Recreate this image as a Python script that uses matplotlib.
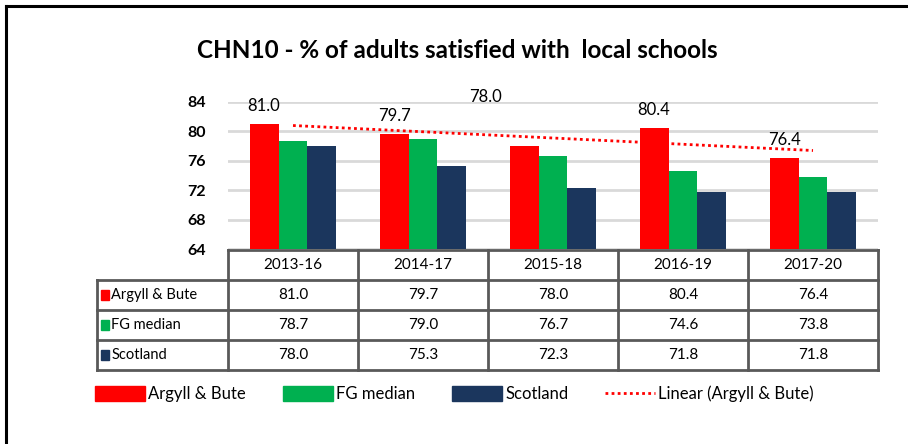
import numpy as np
import matplotlib
matplotlib.use('Agg')
import matplotlib.pyplot as plt
from matplotlib.patches import Patch, Rectangle
from matplotlib.lines import Line2D

plt.rcParams['font.family'] = ['Lato', 'DejaVu Sans']

# data
periods = ['2013-16', '2014-17', '2015-18', '2016-19', '2017-20']
argyll = [81.0, 79.7, 78.0, 80.4, 76.4]
fg_median = [78.7, 79.0, 76.7, 74.6, 73.8]
scotland = [78.0, 75.3, 72.3, 71.8, 71.8]
series_names = ['Argyll & Bute', 'FG median', 'Scotland']
colors = ['#FF0000', '#00B050', '#1B365D']

W, H = 908, 444
fig = plt.figure(figsize=(W / 100, H / 100), dpi=100)

def fx(px):
    return px / W

def fy(py):
    return 1 - py / H

# main bar axes
ax = fig.add_axes([fx(228), fy(249), fx(878) - fx(228), fy(102) - fy(249)])
x = np.arange(len(periods))
bw = 0.223
for i, (vals, col) in enumerate(zip([argyll, fg_median, scotland], colors)):
    ax.bar(x + (i - 1) * bw, vals, width=bw, color=col, zorder=3)

# linear trend for Argyll & Bute
coef = np.polyfit(x, argyll, 1)
ax.plot(x, np.polyval(coef, x), color='#FF0000', linestyle=(0, (1, 1.2)), lw=2, zorder=4)

# data labels above the red bars (one was moved by hand in the original)
nudge = {2: (-28, 35)}
for i, v in enumerate(argyll):
    dx, dy = nudge.get(i, (0, 13))
    ax.annotate(f'{v:.1f}', (x[i] - bw, v), xytext=(dx, dy), textcoords='offset points',
                ha='center', va='center', fontsize=12, annotation_clip=False, zorder=5)

ax.set_xlim(-0.5, 4.5)
ax.set_ylim(64, 84)
yt = np.arange(64, 85, 4)
ax.set_yticks(yt)
ax.set_yticklabels([str(v) for v in yt], fontweight='bold', fontsize=11.5)
ax.tick_params(axis='y', length=0, pad=16)
ax.set_xticks([])
ax.grid(axis='y', color='#D9D9D9', lw=2, zorder=0)
for s in ['top', 'right', 'left', 'bottom']:
    ax.spines[s].set_visible(False)

# data table underneath
tab = fig.add_axes([fx(97), fy(370), fx(878) - fx(97), fy(250) - fy(370)])
left = -0.5 - 131 / 130
tab.set_xlim(left, 4.5)
tab.set_ylim(4, 0)
tab.axis('off')
lc = '#595959'
lw = 2.0
# horizontal lines
tab.plot([-0.5, 4.5], [0, 0], color=lc, lw=lw, solid_capstyle='projecting', clip_on=False)
for r in [1, 2, 3, 4]:
    tab.plot([left, 4.5], [r, r], color=lc, lw=lw, solid_capstyle='projecting', clip_on=False)
# vertical lines
tab.plot([left, left], [1, 4], color=lc, lw=lw, solid_capstyle='projecting', clip_on=False)
for c in np.arange(-0.5, 4.6, 1):
    tab.plot([c, c], [0, 4], color=lc, lw=lw, solid_capstyle='projecting', clip_on=False)

for j, p in enumerate(periods):
    tab.text(j, 0.5, p, ha='center', va='center', fontsize=11)
for r, (name, vals, col) in enumerate(zip(series_names, [argyll, fg_median, scotland], colors)):
    tab.add_patch(Rectangle((left + 0.03, r + 1.5 - 0.17), 0.065, 0.34, color=col, clip_on=False))
    tab.text(left + 0.11, r + 1.5, name, ha='left', va='center', fontsize=10.5)
    for j, v in enumerate(vals):
        tab.text(j, r + 1.5, f'{v:.1f}', ha='center', va='center', fontsize=11)

# legend
handles = [Patch(color=c) for c in colors]
handles.append(Line2D([], [], color='#FF0000', linestyle=(0, (1, 1.2)), lw=2))
labels = series_names + ['Linear (Argyll & Bute)']
fig.legend(handles, labels, loc='center left', bbox_to_anchor=(fx(95), fy(394)),
           ncol=4, frameon=False, fontsize=12, handlelength=3.0, handleheight=1.0,
           handletextpad=0.2, columnspacing=2.2, borderpad=0, borderaxespad=0)

# title
fig.text(fx(457), fy(50), 'CHN10 - % of adults satisfied with  local schools',
         ha='center', va='center', fontsize=17.5, fontweight='bold')

# chart border (left and top)
fig.add_artist(Line2D([fx(6), fx(6)], [0, fy(6)], color='black', lw=2.2))
fig.add_artist(Line2D([fx(6), 1], [fy(6), fy(6)], color='black', lw=2.2))

fig.savefig('out.png', dpi=100)
